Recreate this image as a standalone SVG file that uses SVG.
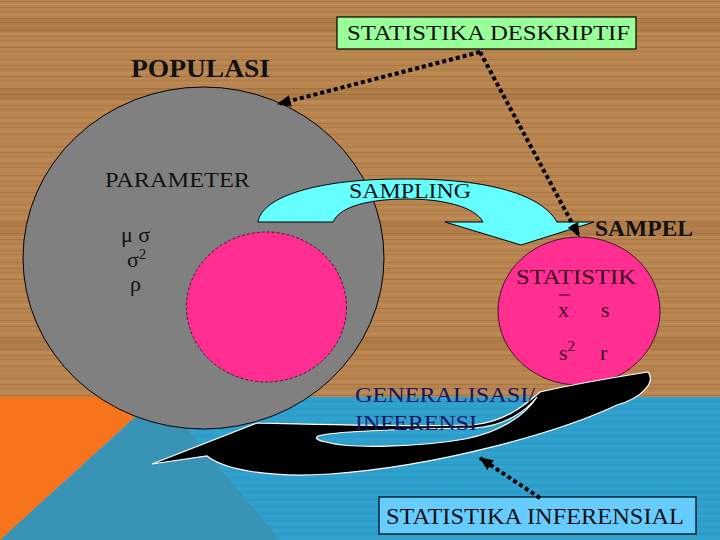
<svg xmlns="http://www.w3.org/2000/svg" width="720" height="540" viewBox="0 0 720 540">
  <defs>
    <pattern id="wood" patternUnits="userSpaceOnUse" width="720" height="29">
      <rect width="720" height="29" fill="#b88450"/>
      <rect y="1" width="720" height="1" fill="#93612f" opacity="0.35"/>
      <rect y="4" width="720" height="1" fill="#cf9a62" opacity="0.4"/>
      <rect y="7" width="720" height="1" fill="#8a5a2c" opacity="0.3"/>
      <rect y="11" width="720" height="1" fill="#a06a38" opacity="0.35"/>
      <rect y="14" width="720" height="2" fill="#c9955e" opacity="0.35"/>
      <rect y="18" width="720" height="1" fill="#8a5a2c" opacity="0.35"/>
      <rect y="22" width="720" height="1" fill="#a36c3a" opacity="0.3"/>
      <rect y="25" width="720" height="1" fill="#cf9a62" opacity="0.35"/>
    </pattern>
    <pattern id="water" patternUnits="userSpaceOnUse" width="720" height="7">
      <rect width="720" height="7" fill="#2f9fcc"/>
      <rect y="2" width="720" height="1" fill="#2a93c0" opacity="0.5"/>
      <rect y="5" width="720" height="1" fill="#38a7d3" opacity="0.5"/>
    </pattern>
    <marker id="ah" markerUnits="userSpaceOnUse" markerWidth="14" markerHeight="14" viewBox="0 0 12 12" refX="11" refY="6" orient="auto">
      <path d="M0,1 L12,6 L0,11 Z" fill="#000"/>
    </marker>
  </defs>
  <style>
    text { font-family: "Liberation Serif", "DejaVu Serif", "Times New Roman", serif; }
    .dot { fill: none; stroke: #000; stroke-width: 4; stroke-dasharray: 4 3; }
    .box { stroke: #000; stroke-width: 1.2; }
  </style>

  <!-- background -->
  <rect x="0" y="0" width="720" height="540" fill="url(#wood)"/>
  <rect x="0" y="18" width="720" height="14" fill="#6e4019" opacity="0.12"/>
  <rect x="0" y="88" width="720" height="12" fill="#6e4019" opacity="0.12"/>
  <rect x="0" y="222" width="720" height="14" fill="#6e4019" opacity="0.1"/>
  <rect x="0" y="338" width="720" height="12" fill="#6e4019" opacity="0.12"/>
  <rect x="0" y="397" width="720" height="143" fill="url(#water)"/>
  <polygon points="160,397 280,540 0,540" fill="#3993b5"/>
  <polygon points="0,397 157,397 0,540" fill="#f7741c"/>

  <!-- population -->
  <g id="populasi" font-family="Liberation Serif, DejaVu Serif, serif" fill="#111">
    <ellipse cx="203.5" cy="258" rx="180.5" ry="171" fill="#808080" stroke="#000" stroke-width="1"/>
    <ellipse cx="266.5" cy="307" rx="80" ry="75" fill="#ff2f92" stroke="#4a1030" stroke-width="1" stroke-dasharray="3 2"/>
    <text x="131" y="77" font-size="26" font-weight="bold" textLength="139" lengthAdjust="spacingAndGlyphs">POPULASI</text>
    <text x="105" y="187" font-size="22" textLength="145" lengthAdjust="spacingAndGlyphs">PARAMETER</text>
    <text x="121" y="242" font-size="22">μ σ</text>
    <text x="127" y="267" font-size="22">σ<tspan font-size="15" dy="-8">2</tspan></text>
    <text x="130" y="291" font-size="22">ρ</text>
  </g>

  <!-- sampling arrow -->
  <g id="sampling" font-family="Liberation Serif, DejaVu Serif, serif">
    <path d="M258,222 C262,196 320,179 400,179 C480,178 540,192 557,222 L594,222 L521,245 L445,222 L483,222 C475,206 440,199 408,199 C370,199 340,206 333,222 Z" fill="#66ffff" stroke="#000" stroke-width="1"/>
    <text x="349" y="198" font-size="22" fill="#111" textLength="122" lengthAdjust="spacingAndGlyphs">SAMPLING</text>
  </g>

  <!-- sample -->
  <g id="sampel" font-family="Liberation Serif, DejaVu Serif, serif" fill="#3a0a20">
    <ellipse cx="579" cy="311" rx="81" ry="74" fill="#ff2f92" stroke="#4a1030" stroke-width="1"/>
    <text x="595" y="236" font-size="23" font-weight="bold" fill="#111" textLength="98" lengthAdjust="spacingAndGlyphs">SAMPEL</text>
    <text x="516" y="284" font-size="22" textLength="120" lengthAdjust="spacingAndGlyphs">STATISTIK</text>
    <line x1="559" y1="295" x2="570" y2="295" stroke="#3a0a20" stroke-width="1.2"/>
    <text x="558" y="317" font-size="22">x</text>
    <text x="601" y="317" font-size="22">s</text>
    <text x="559" y="360" font-size="22">s<tspan font-size="15" dy="-9">2</tspan></text>
    <text x="600" y="360" font-size="22">r</text>
  </g>

  <!-- generalisation arrow -->
  <g id="generalisasi" font-family="Liberation Serif, DejaVu Serif, serif" fill="#151565">
    <path fill-rule="evenodd" d="M648,372 C656,382 642,398 617,405 C560,432 440,466 330,474 C270,478 225,470 207,456 L152,464 L257,423 C300,424 400,427 472,425 C505,422 525,405 540,392 C570,385 610,378 648,372 Z M318,436 C335,431 400,429 475,428 C505,426 526,411 537,397 C525,416 500,432 465,439 C420,447 350,449 326,442 C316,440 315,438 318,436 Z" fill="#000" stroke="#fff" stroke-width="1.2"/>
    <text x="355" y="402" font-size="22" textLength="180" lengthAdjust="spacingAndGlyphs">GENERALISASI/</text>
    <text x="355" y="430" font-size="22" textLength="122" lengthAdjust="spacingAndGlyphs">INFERENSI</text>
  </g>

  <!-- boxes -->
  <g id="deskriptif" font-family="Liberation Serif, DejaVu Serif, serif" fill="#111">
    <rect class="box" x="337" y="17" width="299" height="32" fill="#99ff99"/>
    <text x="347" y="40" font-size="22" textLength="283" lengthAdjust="spacingAndGlyphs">STATISTIKA DESKRIPTIF</text>
  </g>
  <g id="inferensial" font-family="Liberation Serif, DejaVu Serif, serif" fill="#111">
    <rect class="box" x="379" y="497" width="317" height="37" fill="#66ccff"/>
    <text x="386" y="524" font-size="23" textLength="298" lengthAdjust="spacingAndGlyphs">STATISTIKA INFERENSIAL</text>
  </g>

  <!-- connectors -->
  <g id="connectors">
    <path class="dot" d="M480,52 L278,104" marker-end="url(#ah)"/>
    <path class="dot" d="M480,52 L579,236" marker-end="url(#ah)"/>
    <path class="dot" d="M540,498 L480,458" marker-end="url(#ah)"/>
  </g>
</svg>
